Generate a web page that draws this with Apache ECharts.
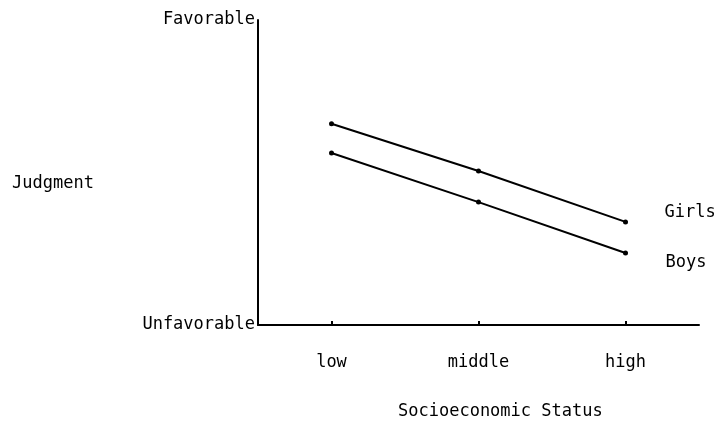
<!DOCTYPE html>
<html>
<head>
<meta charset="utf-8">
<script src="https://cdn.jsdelivr.net/npm/echarts@6/dist/echarts.min.js"></script>
<style>html,body{margin:0;padding:0;background:#fff}#c{width:727px;height:421px}</style>
</head>
<body>
<div id="c"></div>
<script>
const categories = ['low', 'middle', 'high'];
const girls = [6.6, 5.05, 3.38];
const boys = [5.64, 4.03, 2.36];
const yTickLabels = ['Unfavorable', 'Favorable'];
const seriesNames = ['Girls', 'Boys'];
const yAxisTitle = 'Judgment';
const xAxisTitle = 'Socioeconomic Status';

const FONT = 'DejaVu Sans Mono';
const FS = 17;
const chart = echarts.init(document.getElementById('c'), null, {renderer: 'canvas'});
const lineSeries = (name, data, off) => ({
  name, type: 'line', data,
  symbol: 'circle', symbolSize: 5,
  lineStyle: {color: '#000', width: 2},
  itemStyle: {color: '#000'},
  animation: false,
  endLabel: {show: true, formatter: name, color: '#000', fontFamily: FONT, fontSize: FS, offset: off}
});
chart.setOption({
  backgroundColor: '#fff',
  animation: false,
  grid: {left: 258, right: 28, top: 20, bottom: 96},
  xAxis: {
    type: 'category', data: categories, boundaryGap: true,
    axisLine: {lineStyle: {color: '#000', width: 2}},
    axisTick: {show: true, alignWithLabel: true, length: -4, lineStyle: {color: '#000', width: 2}},
    axisLabel: {color: '#000', fontFamily: FONT, fontSize: FS, margin: 29}
  },
  yAxis: {
    type: 'value', min: 0, max: 10, interval: 10,
    splitLine: {show: false},
    axisLine: {show: true, lineStyle: {color: '#000', width: 2}},
    axisTick: {show: false},
    axisLabel: {color: '#000', fontFamily: FONT, fontSize: FS, margin: 3,
      formatter: v => v === 10 ? yTickLabels[1] : (v === 0 ? yTickLabels[0] : '')}
  },
  graphic: [{
    type: 'text', left: 12, top: 175,
    style: {text: yAxisTitle, fill: '#000', font: FS + 'px "' + FONT + '"'}
  }, {
    type: 'text', left: 398, top: 403,
    style: {text: xAxisTitle, fill: '#000', font: FS + 'px "' + FONT + '"'}
  }],
  series: [lineSeries(seriesNames[0], girls, [31, -9]), lineSeries(seriesNames[1], boys, [32, 10])]
});
</script>
</body>
</html>
